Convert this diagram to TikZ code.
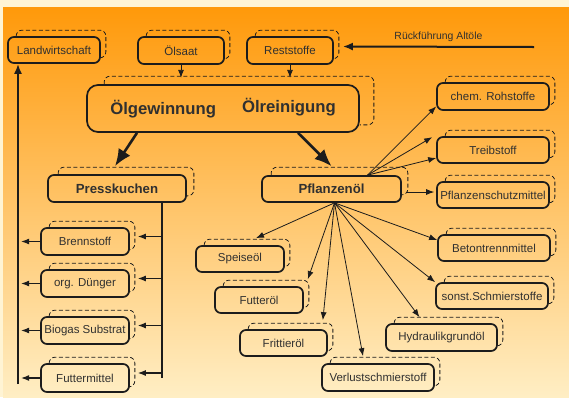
\documentclass[tikz,border=0pt]{standalone}
\usepackage{fontspec}
\setmainfont{Liberation Sans}
\usetikzlibrary{arrows.meta}
\usetikzlibrary{positioning}

\definecolor{cream}{HTML}{FFF4D4}
\definecolor{bgtop}{HTML}{FF990A}
\definecolor{bgbot}{HTML}{FFEEC4}
\definecolor{ink}{HTML}{1C1C1C}
\definecolor{txt}{HTML}{303030}

\tikzset{
  box/.style={draw=ink, line width=1.7pt, rounded corners=6pt, minimum height=26pt,
    minimum width=88pt, inner sep=1pt, text=txt, font=\fontsize{11.5}{12}\selectfont},
  headbox/.style={box, minimum width=138pt, font=\fontsize{13.2}{14}\selectfont\bfseries},
  ghostline/.style={draw=ink, line width=0.8pt, dash pattern=on 4pt off 2.5pt, rounded corners=6pt},
  linkarrow/.style={draw=ink, line width=0.8pt, -{Latex[length=8pt,width=6pt]}},
  feedarrow/.style={draw=ink, line width=1.1pt, -{Latex[length=8pt,width=6pt]}},
  railarrow/.style={draw=ink, line width=2pt, -{Latex[length=10pt,width=8pt]}},
  heavyarrow/.style={draw=ink, line width=2.6pt, -{Latex[length=17pt,width=14pt]}},
}

% dashed edge behind a box: node, x offset, y offset
\newcommand{\ghostedge}[3]{%
  \draw[ghostline] ([xshift=#2+4pt]#1.north west) -- ([shift={(#2+4pt,#3)}]#1.north west)
    -- ([shift={(#2,#3)}]#1.north east) -- ([shift={(#2,#3)}]#1.south east)
    -- ([yshift=#3]#1.south east);}

\begin{document}
\begin{tikzpicture}[x=1pt, y=-1pt]
  \fill[cream] (0,0) rectangle (569,397);
  \shade[top color=bgtop, bottom color=bgbot] (3,7) rectangle (569,397);
  \useasboundingbox (0,0) rectangle (569,397);

  % top row
  \node[box, minimum width=92pt] (land) at (54,50) {Landwirtschaft};
  \node[box, minimum width=86pt, minimum height=27pt] (saat) at (181,50.5) {Ölsaat};
  \node[box, minimum width=86pt, minimum height=27pt] (rest) at (290,50.5) {Reststoffe};
  \node[box, rounded corners=11pt, minimum width=272pt, minimum height=47pt,
    font=\fontsize{16.7}{18}\selectfont\bfseries] (big) at (223,108.5)
    {Ölgewinnung\hspace{26pt}\raisebox{2pt}{Ölreinigung}\hspace{16pt}};

  % main products
  \node[headbox, minimum height=27pt] (press) at (117,188.5) {Presskuchen};
  \node[headbox, minimum width=139pt] (pfl) at (331.5,189) {Pflanzenöl};

  % right column
  \node[box, minimum width=112pt, minimum height=27pt] (chem) at (493,96.5) {chem. Rohstoffe};
  \node[box, minimum width=112pt] (treib) at (493,150) {Treibstoff};
  \node[box, minimum width=112pt] (schutz) at (493,195) {Pflanzenschutzmittel};
  \node[box, minimum width=112pt] (beton) at (494,248) {Betontrennmittel};
  \node[box, minimum width=112pt] (sonst) at (492,296) {sonst.Schmierstoffe};
  \node[box, minimum width=111pt, minimum height=27pt] (hydr) at (441.5,337.5) {Hydraulikgrundöl};
  \node[box, minimum width=112pt, minimum height=27pt] (verl) at (378,377.5) {Verlustschmierstoff};

  % middle column
  \node[box] (speise) at (240,259) {Speiseöl};
  \node[box] (fol) at (259,300) {Futteröl};
  \node[box, minimum width=87pt] (frit) at (283.5,343) {Frittieröl};

  % left column
  \node[box, minimum height=27pt] (brenn) at (85,241.5) {Brennstoff};
  \node[box, minimum height=27pt] (dung) at (85,283.5) {org. Dünger};
  \node[box, minimum height=27pt] (bio) at (85,330.5) {Biogas Substrat};
  \node[box, minimum height=28pt] (fm) at (85,378) {Futtermittel};

  % dashed edges
  \foreach \n in {land,saat,rest,chem,treib,schutz,beton,sonst,hydr,verl,speise,fol,frit,brenn,dung,bio,fm}
    \ghostedge{\n}{5pt}{6pt};
  \ghostedge{press}{7pt}{7pt}
  \ghostedge{pfl}{6pt}{8pt}
  \ghostedge{big}{14pt}{8pt}

  % inputs
  \draw[linkarrow] (saat.south) -- ++(0,13);
  \draw[linkarrow] (rest.south) -- ++(0,13);
  \coordinate (altoel) at (534,47);
  \draw[railarrow] (altoel) -- ([shift={(9pt,4pt)}]rest.east)
    node[midway, above=1pt, text=txt, font=\fontsize{10.4}{11}\selectfont] {Rückführung Altöle};

  % split
  \draw[heavyarrow] ([xshift=-86pt]big.south) -- ([shift={(-2pt,8pt)}]press.north);
  \draw[heavyarrow] ([xshift=75pt]big.south) -- ([yshift=9pt]pfl.north);

  % Presskuchen tree
  \coordinate (trunk) at ([xshift=45pt]press.south);
  \draw[draw=ink, line width=1.1pt] (trunk) -- (trunk |- fm.center);
  \foreach \n in {brenn,dung,bio,fm}{
    \draw[feedarrow] (trunk |- \n.east) ++(0,-5) -- ([shift={(8pt,5pt)}]\n.east);
    \draw[feedarrow] (\n.west) -- ++(-19,0);
  }
  \coordinate (railfoot) at (18,384);
  \draw[railarrow] (railfoot) -- (railfoot |- land.south);

  % Pflanzenoel fan
  \coordinate (ftop) at ([xshift=36pt]pfl.north);
  \coordinate (fbot) at ([xshift=3pt]pfl.south);
  \draw[linkarrow] (ftop) -- ([yshift=-10pt]chem.west);
  \draw[linkarrow] (ftop) -- ([shift={(-4pt,-1pt)}]treib.north west);
  \draw[linkarrow] (ftop) -- ([yshift=-8pt]treib.west);
  \draw[linkarrow] (pfl.east |- schutz.west) ++(4,-3) -- ([shift={(-2pt,3pt)}]schutz.west);
  \draw[linkarrow] (fbot) -- ([yshift=8pt]beton.west);
  \draw[linkarrow] (fbot) -- (sonst.north west);
  \draw[linkarrow] (fbot) -- ([shift={(-22pt,6pt)}]hydr.north);
  \draw[linkarrow] (fbot) -- ([shift={(-15pt,7pt)}]verl.north);
  \draw[linkarrow] (fbot) -- ([shift={(-5pt,9pt)}]frit.north east);
  \draw[linkarrow] (fbot) -- ([shift={(4pt,7pt)}]fol.north east);
  \draw[linkarrow] (fbot) -- ([shift={(16pt,7pt)}]speise.north);
\end{tikzpicture}
\end{document}
